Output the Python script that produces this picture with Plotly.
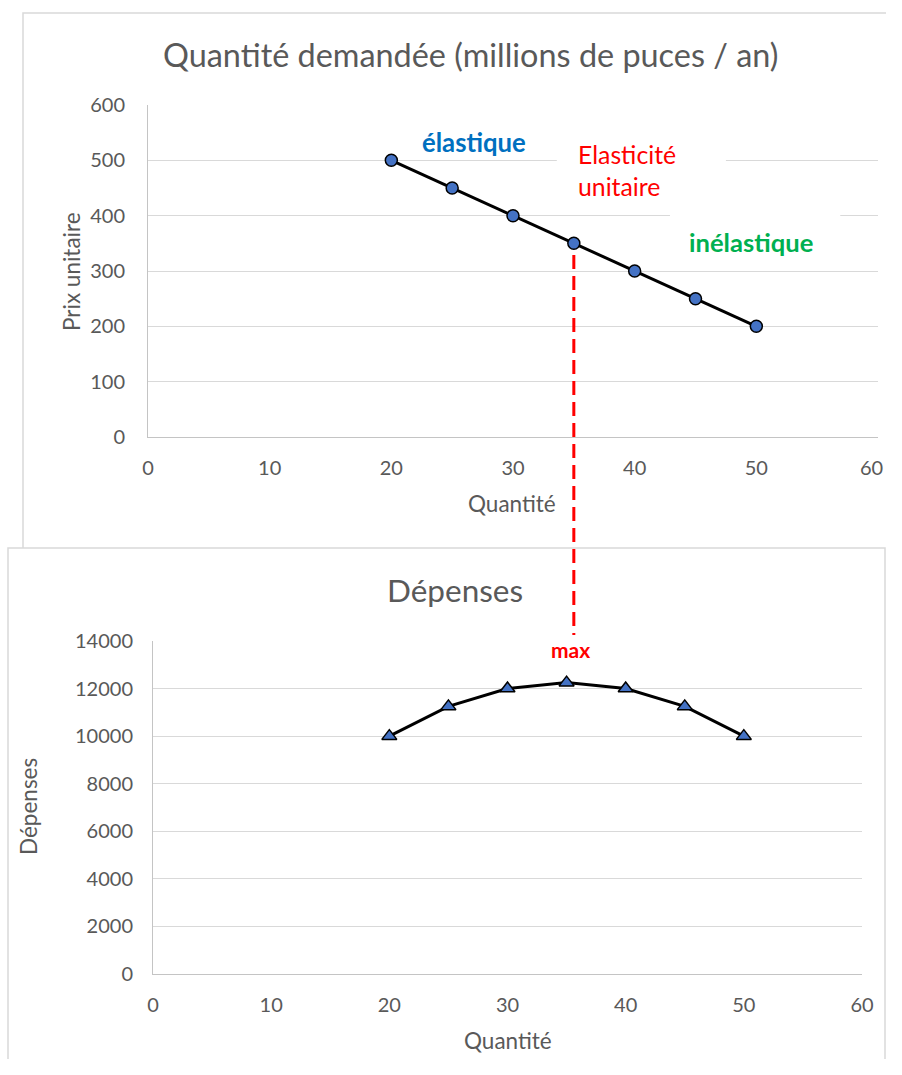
import plotly.graph_objects as go

# Demand schedule: quantity (millions of chips / year) and unit price
quantite = [20, 25, 30, 35, 40, 45, 50]
prix = [500, 450, 400, 350, 300, 250, 200]
# Total expenditure = quantity x price
depenses = [10000, 11250, 12000, 12250, 12000, 11250, 10000]

x_ticks = [0, 10, 20, 30, 40, 50, 60]
prix_ticks = [0, 100, 200, 300, 400, 500, 600]
depenses_ticks = [0, 2000, 4000, 6000, 8000, 10000, 12000, 14000]

# Figure sized so that, with the browser's default 8px body margin,
# the page never overflows the 902x1075 window.
PAGE_W, PAGE_H, BODY_M = 902, 1075, 8
W, H = PAGE_W - 2 * BODY_M, PAGE_H - 2 * BODY_M
FONT = "Lato"
GREY = "#595959"
GRID = "#D9D9D9"
AXLINE = "#C4C4C4"
BORDER = "#D9D9D9"


def px(x):
    """Pixel x -> paper fraction."""
    return x / W


def py(y):
    """Pixel y (from top) -> paper fraction."""
    return 1 - y / H


q_max = quantite[depenses.index(max(depenses))]

fig = go.Figure()
fig.add_trace(go.Scatter(
    x=quantite, y=prix, mode="lines+markers", xaxis="x", yaxis="y",
    line=dict(color="black", width=3),
    marker=dict(symbol="circle", size=12, color="#4472C4",
                line=dict(color="black", width=1.5)),
    showlegend=False, hoverinfo="x+y",
))
fig.add_trace(go.Scatter(
    x=quantite, y=depenses, mode="lines+markers", xaxis="x2", yaxis="y2",
    line=dict(color="black", width=3),
    marker=dict(symbol="triangle-up", size=13, color="#4472C4",
                line=dict(color="black", width=1.5)),
    showlegend=False, hoverinfo="x+y",
))

tick_font = dict(family=FONT, size=20, color=GREY)
common_x = dict(range=[0, 60], tickvals=x_ticks, showgrid=False, zeroline=False,
                showline=True, linecolor=AXLINE, linewidth=1, ticks="",
                tickfont=tick_font, fixedrange=True, automargin=False)
common_y = dict(showgrid=True, gridcolor=GRID, gridwidth=1, zeroline=False,
                showline=True, linecolor=AXLINE, linewidth=1, ticks="",
                tickfont=tick_font, fixedrange=True, automargin=False,
                exponentformat="none", separatethousands=False, tickformat="d")

# Top axis: the last label sits on the figure's right edge, so it is
# written separately, right-aligned to the edge.
top_x_text = [str(v) for v in x_ticks[:-1]] + [""]

fig.update_layout(
    width=W, height=H,
    margin=dict(l=0, r=0, t=0, b=0),
    paper_bgcolor="white", plot_bgcolor="rgba(0,0,0,0)",
    font=dict(family=FONT, color=GREY),
    xaxis=dict(domain=[px(148), px(878)], anchor="y", ticklabelstandoff=13,
               ticktext=top_x_text, **common_x),
    yaxis=dict(domain=[py(437), py(105)], anchor="x", range=[0, 600],
               tickvals=prix_ticks, ticklabelstandoff=18, **common_y),
    xaxis2=dict(domain=[px(153), px(862)], anchor="y2", ticklabelstandoff=13, **common_x),
    yaxis2=dict(domain=[py(974), py(641)], anchor="x2", range=[0, 14000],
                tickvals=depenses_ticks, ticklabelstandoff=15, **common_y),
)

shapes = [
    # chart frames
    dict(type="rect", xref="paper", yref="paper", layer="below",
         x0=px(23), x1=1.02, y0=-0.02, y1=py(13),
         line=dict(color=BORDER, width=1.5), fillcolor="white"),
    dict(type="rect", xref="paper", yref="paper", layer="below",
         x0=px(8), x1=px(885), y0=-0.02, y1=py(548),
         line=dict(color=BORDER, width=1.5), fillcolor="white"),
    # white text boxes sitting over the gridlines
    dict(type="rect", xref="x", yref="y", layer="between",
         x0=33.6, x1=47.5, y0=420, y1=545, line=dict(width=0), fillcolor="white"),
    dict(type="rect", xref="x", yref="y", layer="between",
         x0=42.9, x1=56.9, y0=318, y1=410, line=dict(width=0), fillcolor="white"),
    # guide from unit elasticity down to maximum spending
    dict(type="line", xref="x", yref="paper", layer="above",
         x0=q_max, x1=q_max, y0=py(255), y1=py(635),
         line=dict(color="#FF0000", width=3, dash="14px,7px")),
]
fig.update_layout(shapes=shapes)

ann = []


def text(x, y, s, size, color=GREY, bold=False, angle=0, xanchor="center", align="center"):
    ann.append(dict(
        xref="paper", yref="paper", x=px(x), y=py(y), text=s, showarrow=False,
        xanchor=xanchor, yanchor="middle", textangle=angle, align=align,
        font=dict(family=FONT, size=size, color=color,
                  weight="bold" if bold else "normal"),
    ))


text(470, 55, "Quantité demandée (millions de puces / an)", 32.4)
text(512, 504, "Quantité", 22.5)
text(71, 272, "Prix unitaire", 22.5, angle=-90)
text(455, 590, "Dépenses", 31.5)
text(508, 1040, "Quantité", 22.5)
text(28, 807, "Dépenses", 22.5, angle=-90)
text(474, 142, "élastique", 25.7, color="#0070C0", bold=True)
text(576, 171, "Elasticité<br>unitaire", 24.8, color="#FF0000", xanchor="left", align="left")
text(751, 242, "inélastique", 25.6, color="#00B050", bold=True)
text(570, 649, "max", 21, color="#FF0000", bold=True)
ann.append(dict(
    xref="paper", yref="paper", x=1, y=py(467), text=str(x_ticks[-1]),
    showarrow=False, xanchor="right", yanchor="middle", xshift=-1,
    font=tick_font,
))

fig.update_layout(annotations=ann)

fig.write_html("out.html")
